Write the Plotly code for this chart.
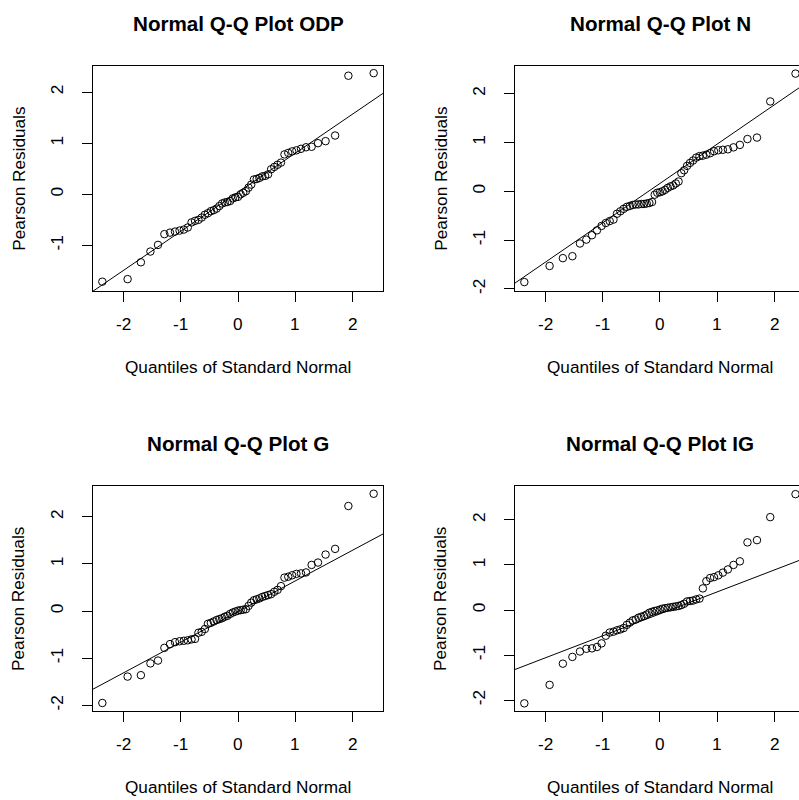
import numpy as np
import plotly.graph_objects as go

# Theoretical standard-normal quantiles (55 residuals per model)
theoretical_quantiles = [
    -2.362, -1.922, -1.691, -1.525, -1.393, -1.282, -1.184, -1.097, -1.017, -0.943,
    -0.875, -0.809, -0.748, -0.689, -0.632, -0.577, -0.524, -0.473, -0.422, -0.373,
    -0.325, -0.277, -0.230, -0.184, -0.137, -0.091, -0.046, 0.000, 0.046, 0.091,
    0.137, 0.184, 0.230, 0.277, 0.325, 0.373, 0.422, 0.473, 0.524, 0.577,
    0.632, 0.689, 0.748, 0.809, 0.875, 0.943, 1.017, 1.097, 1.184, 1.282,
    1.393, 1.525, 1.691, 1.922, 2.362,
]

odp_residuals = [
    -1.71, -1.66, -1.33, -1.12, -0.99, -0.78, -0.75, -0.73, -0.71, -0.69,
    -0.65, -0.55, -0.52, -0.50, -0.455, -0.40, -0.37, -0.33, -0.31, -0.28,
    -0.23, -0.18, -0.16, -0.15, -0.13, -0.08, -0.06, -0.05, 0.00, 0.03,
    0.06, 0.13, 0.19, 0.29, 0.30, 0.32, 0.35, 0.36, 0.39, 0.49,
    0.535, 0.578, 0.62, 0.78, 0.81, 0.84, 0.86, 0.89, 0.92, 0.93,
    1.00, 1.04, 1.15, 2.32, 2.37,
]

n_residuals = [
    -1.86, -1.53, -1.37, -1.33, -1.07, -0.99, -0.90, -0.80, -0.71, -0.65,
    -0.61, -0.58, -0.46, -0.41, -0.36, -0.32, -0.30, -0.28, -0.27, -0.27,
    -0.26, -0.26, -0.25, -0.24, -0.22, -0.07, -0.03, -0.02, 0.00, 0.03,
    0.07, 0.10, 0.12, 0.16, 0.20, 0.37, 0.43, 0.52, 0.58, 0.63,
    0.69, 0.72, 0.73, 0.75, 0.78, 0.82, 0.84, 0.85, 0.86, 0.90,
    0.95, 1.07, 1.10, 1.84, 2.41,
]

g_residuals = [
    -1.95, -1.39, -1.36, -1.11, -1.05, -0.78, -0.70, -0.66, -0.64, -0.63,
    -0.62, -0.60, -0.59, -0.46, -0.44, -0.38, -0.27, -0.25, -0.22, -0.19,
    -0.17, -0.15, -0.12, -0.10, -0.06, -0.03, -0.01, 0.01, 0.02, 0.03,
    0.04, 0.11, 0.18, 0.23, 0.25, 0.27, 0.30, 0.32, 0.34, 0.36,
    0.41, 0.45, 0.53, 0.71, 0.73, 0.76, 0.79, 0.80, 0.82, 0.98,
    1.03, 1.20, 1.32, 2.23, 2.49,
]

ig_residuals = [
    -2.07, -1.66, -1.19, -1.04, -0.92, -0.86, -0.85, -0.82, -0.74, -0.57,
    -0.50, -0.48, -0.45, -0.43, -0.40, -0.33, -0.28, -0.23, -0.21, -0.17,
    -0.15, -0.13, -0.10, -0.06, -0.04, -0.02, -0.01, 0.01, 0.03, 0.04,
    0.05, 0.06, 0.07, 0.08, 0.09, 0.11, 0.14, 0.19, 0.20, 0.21,
    0.235, 0.253, 0.48, 0.64, 0.71, 0.73, 0.77, 0.83, 0.90, 1.00,
    1.08, 1.50, 1.55, 2.06, 2.57,
]

panel_titles = ["Normal Q-Q Plot ODP", "Normal Q-Q Plot N", "Normal Q-Q Plot G", "Normal Q-Q Plot IG"]
x_axis_title = "Quantiles of Standard Normal"
y_axis_title = "Pearson Residuals"
tick_values = [-2, -1, 0, 1, 2]
tick_labels = ["-2", "-1", "0", "1", "2"]

W, H = 799, 800
FONT = "Liberation Sans, Arial, sans-serif"
BASE = 17.2

# page-pixel boxes (left, right, top, bottom) and axis ranges
panels = [
    dict(y=odp_residuals, box=(92.7, 383.3, 66.0, 292.5), xr=[-2.53, 2.53], yr=[-1.90, 2.515], right=False),
    dict(y=n_residuals, box=(514.7, 799.0, 66.0, 292.5), xr=[-2.53, 2.423], yr=[-2.051, 2.571], right=True),
    dict(y=g_residuals, box=(92.7, 383.3, 488.0, 714.0), xr=[-2.53, 2.53], yr=[-2.127, 2.651], right=False),
    dict(y=ig_residuals, box=(514.7, 799.0, 488.0, 714.0), xr=[-2.53, 2.423], yr=[-2.247, 2.747], right=True),
]

fig = go.Figure()
annotations = []
layout_axes = {}

for k, p in enumerate(panels, start=1):
    xa = "x" if k == 1 else f"x{k}"
    ya = "y" if k == 1 else f"y{k}"
    l, r, t, b = p["box"]
    y = np.array(p["y"])
    # qqline through the quartiles
    q1, q3 = np.quantile(y, [0.25, 0.75])
    z1, z3 = -0.6744898, 0.6744898
    slope = (q3 - q1) / (z3 - z1)
    icpt = q1 - slope * z1
    lx = np.array([p["xr"][0] - 1, p["xr"][1] + 1])
    fig.add_trace(go.Scatter(x=lx, y=icpt + slope * lx, mode="lines",
                             line=dict(color="black", width=1), xaxis=xa, yaxis=ya,
                             hoverinfo="skip"))
    fig.add_trace(go.Scatter(x=theoretical_quantiles, y=p["y"], mode="markers",
                             marker=dict(symbol="circle-open", size=7.5, color="black",
                                         line=dict(width=1, color="black")),
                             xaxis=xa, yaxis=ya))

    xkey = "xaxis" if k == 1 else f"xaxis{k}"
    ykey = "yaxis" if k == 1 else f"yaxis{k}"
    layout_axes[xkey] = dict(
        domain=[l / W, min(r / W, 1.0)], range=p["xr"], anchor=ya,
        tickmode="array", tickvals=tick_values, ticktext=tick_labels,
        ticks="outside", ticklen=10, tickwidth=1, tickcolor="black",
        showticklabels=False,
        showline=True, linecolor="black", linewidth=1, mirror=True,
        showgrid=False, zeroline=False,
    )
    layout_axes[ykey] = dict(
        domain=[1 - b / H, 1 - t / H], range=p["yr"], anchor=xa,
        tickmode="array", tickvals=tick_values, ticktext=tick_labels,
        ticks="outside", ticklen=10, tickwidth=1, tickcolor="black", tickangle=-90,
        showline=True, linecolor="black", linewidth=1, mirror=not p["right"],
        showgrid=False, zeroline=False, ticklabelstandoff=12,
        tickfont=dict(family=FONT, size=BASE, color="black"),
    )

    # x tick labels placed through the x axis scale
    for tv, tl in zip(tick_values, tick_labels):
        annotations.append(dict(text=tl, x=tv, xref=xa, y=1 - (b + 33) / H, yref="paper",
                                showarrow=False, xanchor="center", yanchor="middle",
                                font=dict(family=FONT, size=BASE, color="black")))

    cx = (l + 145.3)
    annotations.append(dict(text=panel_titles[k - 1], x=cx / W, y=1 - (t - 42.5) / H,
                            xref="paper", yref="paper", showarrow=False,
                            xanchor="center", yanchor="middle",
                            font=dict(family=FONT, size=BASE * 1.2, color="black", weight="bold")))
    annotations.append(dict(text=x_axis_title, x=cx / W, y=1 - (b + 75.5) / H,
                            xref="paper", yref="paper", showarrow=False,
                            xanchor="center", yanchor="middle",
                            font=dict(family=FONT, size=BASE, color="black")))
    annotations.append(dict(text=y_axis_title, x=(l - 74.5) / W, y=1 - ((t + b) / 2) / H,
                            xref="paper", yref="paper", showarrow=False, textangle=-90,
                            xanchor="center", yanchor="middle",
                            font=dict(family=FONT, size=BASE, color="black")))

fig.update_layout(
    width=W, height=H,
    margin=dict(l=0, r=0, t=0, b=0),
    paper_bgcolor="white", plot_bgcolor="white",
    showlegend=False,
    annotations=annotations,
    **layout_axes,
)

page_css = (
    "document.documentElement.style.margin='0';"
    "document.documentElement.style.overflow='hidden';"
    "document.body.style.margin='0';"
    "document.body.style.overflow='hidden';"
)
fig.write_html("out.html", post_script=page_css, config={"displayModeBar": False})
